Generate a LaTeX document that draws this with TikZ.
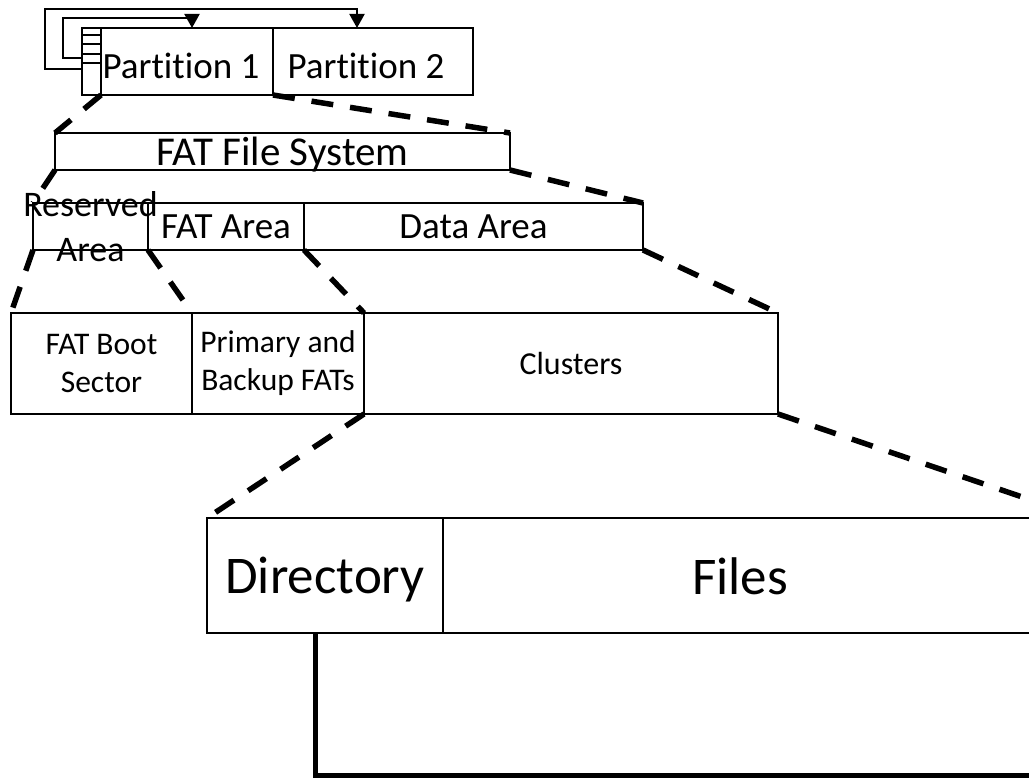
\documentclass[tikz,border=0pt]{standalone}
\usepackage{fontspec}
\setmainfont{Carlito}[Ligatures=CommonOff]
\usetikzlibrary{positioning,arrows.meta}
\tikzstyle{box}=[draw=black, line width=1.5pt, inner sep=0pt, outer sep=0pt,
        align=center]
\tikzstyle{zoomline}=[line width=5.5pt, dash pattern=on 22pt off 17pt]
\tikzstyle{ptr}=[line width=2pt, -{Triangle[length=14pt,width=15pt]}]

\begin{document}
\begin{tikzpicture}[x=1pt, y=1pt]
        \clip (0,0) rectangle (1029,-778);
        % disk with partition table
        \node[box, anchor=north west, minimum width=19, minimum height=67] (mbr) at (82,-28) {};
        \node[box, right=0pt of mbr, minimum width=172, minimum height=67] (p1) {};
        \node[box, right=0pt of p1, minimum width=200, minimum height=67] (p2) {};
        \node[font=\fontsize{37}{44}\selectfont, text depth=0pt] (p1txt) at ([shift={(-6pt,-4pt)}]p1) {Partition 1};
        \node[font=\fontsize{37}{44}\selectfont, text depth=0pt] (p2txt) at ([shift={(-7pt,-4pt)}]p2) {Partition 2};
        \foreach \y in {35,44,54,63}
            \draw[line width=1.5pt] (mbr.west |- 0,-\y) -- (mbr.east |- 0,-\y);
        \draw[ptr] (mbr.west |- 0,-58) -| (63,-18) -| (p1.north -| 192,0);
        \draw[ptr] (mbr.west |- 0,-69) -| (45,-9) -| (p2.north -| 357,0);

        \node[box, anchor=north west, minimum width=455, minimum height=37,
            font=\fontsize{41}{49}\selectfont, text depth=0pt] (fs) at (55,-133) {FAT File System};
        \draw[zoomline] (p1.south west) -- (fs.north west);
        \draw[zoomline] (p1.south east) -- (fs.north east);

        \node[box, anchor=north west, minimum width=115, minimum height=47] (resv) at (33,-203) {};
        \node[font=\fontsize{36}{45}\selectfont, align=center] (resvtxt) at (resv) {Reserved\\Area};
        \node[box, right=0pt of resv, minimum width=156, minimum height=47,
            font=\fontsize{37}{44}\selectfont, text depth=0pt] (fatarea) {FAT Area};
        \node[box, right=0pt of fatarea, minimum width=339, minimum height=47,
            font=\fontsize{37}{44}\selectfont, text depth=0pt] (data) {Data Area};
        \draw[zoomline] (fs.south west) -- (resv.north west);
        \draw[zoomline] (fs.south east) -- (data.north east);

        \node[box, anchor=north west, minimum width=181, minimum height=101,
            font=\fontsize{31.5}{38}\selectfont] (boot) at (11,-313) {FAT Boot\\Sector};
        \node[box, right=0pt of boot, minimum width=172, minimum height=101,
            font=\fontsize{31.5}{38}\selectfont] (fats) {Primary and\\Backup FATs};
        \node[box, right=0pt of fats, minimum width=414, minimum height=101,
            font=\fontsize{32}{38}\selectfont, text depth=0pt] (clus) {Clusters};
        \draw[zoomline] (resv.south west) -- (boot.north west);
        \draw[zoomline] (resv.south east) -- (fats.north west);
        \draw[zoomline] (fatarea.south east) -- (clus.north west);
        \draw[zoomline] (data.south east) -- (clus.north east);

        \node[box, anchor=north west, minimum width=236, minimum height=115,
            font=\fontsize{53}{63}\selectfont, text depth=0pt] (dir) at (207,-518) {Directory};
        \node[box, right=0pt of dir, minimum width=641, minimum height=115] (files) {};
        \node[font=\fontsize{53}{63}\selectfont, text depth=0pt] (filestxt) at (740,-576) {Files};
        \draw[zoomline] (clus.south west) -- (dir.north west);
        \draw[zoomline] (clus.south east) -- (files.north east);

        \coordinate (dirend) at (1100,-775);
        \draw[line width=5pt] (dir.south -| 315,0) |- (dirend);
\end{tikzpicture}
\end{document}
